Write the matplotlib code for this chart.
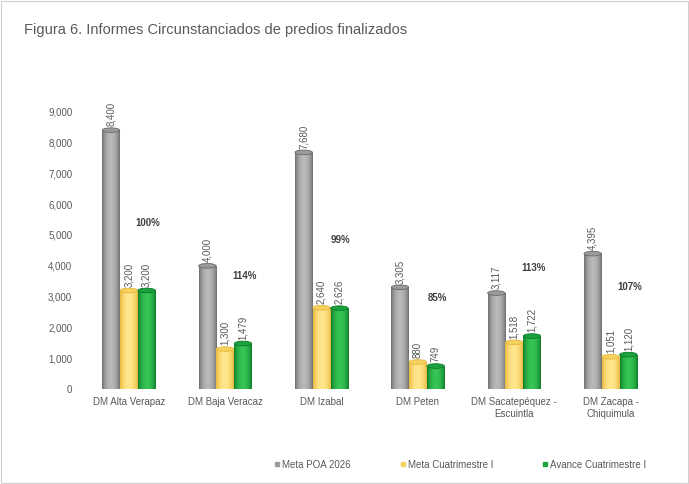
import matplotlib
matplotlib.use("Agg")
import matplotlib.pyplot as plt
import numpy as np
from matplotlib.patches import Ellipse, Rectangle
from matplotlib.lines import Line2D

plt.rcParams["font.family"] = ["Liberation Sans", "DejaVu Sans"]

categories = ["DM Alta Verapaz", "DM Baja Veracaz", "DM Izabal", "DM Peten",
              "DM Sacatepéquez -\nEscuintla", "DM Zacapa -\nChiquimula"]
meta_poa = [8400, 4000, 7680, 3305, 3117, 4395]
meta_cuat = [3200, 1300, 2640, 880, 1518, 1051]
avance_cuat = [3200, 1479, 2626, 749, 1722, 1120]
series_names = ["Meta POA 2026", "Meta Cuatrimestre I", "Avance Cuatrimestre I"]
yticks = [0, 1000, 2000, 3000, 4000, 5000, 6000, 7000, 8000, 9000]

colors = [("#6a6a6a", "#b8b8b8", "#9a9a9a"),
          ("#e6b638", "#ffe68c", "#f6d25e"),
          ("#0a7a28", "#35c455", "#1ba23e")]
text_gray = "#595959"

fig = plt.figure(figsize=(6.89, 4.84), dpi=100)
fig.patches.append(Rectangle((0.002, 0.002), 0.996, 0.996, transform=fig.transFigure,
                             fill=False, edgecolor="#d0d0d0", linewidth=0.8))
fig.text(0.035, 0.937, "Figura 6. Informes Circunstanciados de predios finalizados",
         fontsize=10.5, color=text_gray, ha="left", va="center")

ax = fig.add_axes([0.117, 0.196, 0.839, 0.637])
for s in ax.spines.values():
    s.set_visible(False)
ax.set_yticks(yticks)
ax.set_yticklabels([f"{v:,}" for v in yticks], fontsize=7, color=text_gray)
ax.set_xticks(np.arange(len(categories)))
ax.set_xticklabels(categories, fontsize=7, color=text_gray)
ax.tick_params(length=0, pad=6)

x = np.arange(len(categories))
w = 0.18
offsets = [-0.185, 0.0, 0.185]
cap = 150  # ellipse height in data units
grad = np.linspace(0, 1, 64)
grad = np.sin(grad * np.pi) ** 0.7

for si, vals in enumerate([meta_poa, meta_cuat, avance_cuat]):
    dark, light, mid = colors[si]
    cmap = matplotlib.colors.LinearSegmentedColormap.from_list("c", [dark, light])
    for xi, v in zip(x, vals):
        xc = xi + offsets[si]
        bars = ax.bar(xc, v, width=w, color=mid, edgecolor="none", zorder=2)
        patch = bars[0]
        im = ax.imshow(grad[np.newaxis, :], cmap=cmap, aspect="auto",
                       extent=(xc - w / 2, xc + w / 2, 0, v), zorder=2.1)
        im.set_clip_path(patch)
        ax.add_patch(Ellipse((xc, 0), w, cap, facecolor=dark, edgecolor="none", zorder=1.9))
        ax.add_patch(Ellipse((xc, v), w, cap, facecolor=mid, edgecolor=dark,
                             linewidth=0.6, zorder=2.2))
        ax.text(xc, v + 120, f"{v:,}", rotation=90, ha="center", va="bottom",
                fontsize=7, color=text_gray, zorder=3)

for xi, m, a in zip(x, meta_cuat, avance_cuat):
    ax.text(xi + 0.2, a + 2200, f"{a / m:.0%}", ha="center", va="center",
            fontsize=7, fontweight="bold", color="#404040")

ax.set_xlim(-0.5, 5.5)
ax.set_ylim(0, 10000)

handles = [Line2D([], [], marker="s", linestyle="none", markersize=3,
                  color=c[2]) for c in colors]
fig.legend(handles, series_names, loc="center", bbox_to_anchor=(0.667, 0.04), ncol=3,
           frameon=False, fontsize=7, labelcolor=text_gray, handletextpad=0.1,
           columnspacing=5, handlelength=0.8)

fig.savefig("out.png", dpi=100)
